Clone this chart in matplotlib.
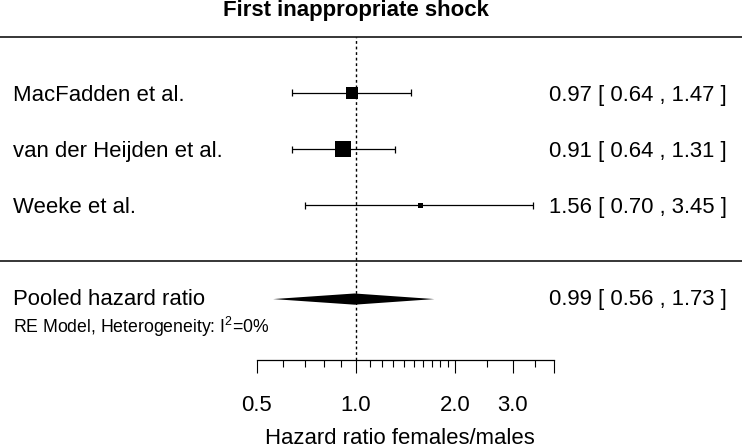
import numpy as np
import matplotlib
matplotlib.use("Agg")
import matplotlib.pyplot as plt
from matplotlib.ticker import FixedLocator, FixedFormatter

plt.rcParams['font.family'] = ['Liberation Sans', 'DejaVu Sans']
plt.rcParams['mathtext.default'] = 'regular'

# data
studies = ["MacFadden et al.", "van der Heijden et al.", "Weeke et al."]
hr = [0.97, 0.91, 1.56]
ci_lo = [0.64, 0.64, 0.70]
ci_hi = [1.47, 1.31, 3.45]
pooled_label = "Pooled hazard ratio"
pooled_hr = 0.99
pooled_lo = 0.56
pooled_hi = 1.73
model_text = "RE Model, Heterogeneity: I$^{2}$=0%"
major_ticks = [0.5, 1.0, 2.0, 3.0, 4.0]
major_labels = ["0.5", "1.0", "2.0", "3.0", ""]
minor_ticks = [0.6, 0.7, 0.8, 0.9, 1.1, 1.2, 1.3, 1.4, 1.5, 1.6, 1.7, 1.8, 1.9, 2.5, 3.5]

W, H = 742, 448
rows = [3, 2, 1]
pooled_row = -0.68
axis_row = -1.77

def px_row(y):
    # pixel y -> row units (56 px per row, row 3 at y=93)
    return 3 - (y - 93) / 56.0

fig = plt.figure(figsize=(W / 100, H / 100), dpi=100)
ax = fig.add_axes([0, 0, 1, 1])
ax.set_xscale('log', base=2)
ax.set_xlim(2 ** (-356 / 99), 2 ** (386 / 99))
ax.set_ylim(px_row(H), px_row(0))
ax.axis('off')

# study weights (metafor style: 1/se rescaled to 0.5..1.5)
se = (np.log(ci_hi) - np.log(ci_lo)) / (2 * 1.96)
wi = 1 / se
psize = (wi - wi.min()) / (wi.max() - wi.min()) + 0.5

fs = 15.9
yt = ax.get_yaxis_transform()
cap = 0.0625

for i, r in enumerate(rows):
    ax.hlines(r, ci_lo[i], ci_hi[i], color='black', lw=0.9)
    ax.vlines([ci_lo[i], ci_hi[i]], r - cap, r + cap, color='black', lw=0.9)
    side = 10.8 * psize[i] / 1.5
    ax.scatter([hr[i]], [r], marker='s', s=side ** 2, color='black', linewidths=0, zorder=3)
    ax.text(13 / W, r - 0.14, studies[i], transform=yt, ha='left', va='baseline', fontsize=fs)
    ax.text(727 / W, r - 0.14, "%.2f [ %.2f , %.2f ]" % (hr[i], ci_lo[i], ci_hi[i]),
            transform=yt, ha='right', va='baseline', fontsize=fs)

# pooled diamond
h = 0.1
ax.fill([pooled_lo, pooled_hr, pooled_hi, pooled_hr],
        [pooled_row, pooled_row + h, pooled_row, pooled_row - h],
        color='black', lw=0, zorder=3)
ax.text(13 / W, pooled_row - 0.11, pooled_label, transform=yt, ha='left', va='baseline', fontsize=fs)
ax.text(727 / W, pooled_row - 0.11, "%.2f [ %.2f , %.2f ]" % (pooled_hr, pooled_lo, pooled_hi),
        transform=yt, ha='right', va='baseline', fontsize=fs)
ax.text(13 / W, px_row(333), model_text, transform=yt, ha='left', va='baseline', fontsize=12.7)

# separator lines and reference line
ax.axhline(4, color='black', lw=1.1)
ax.axhline(0, color='black', lw=1.1)
ax.vlines(1.0, axis_row, 4, color='black', lw=1.0, linestyles=(0, (2, 2)))

# x axis
ax2 = fig.add_axes([257 / W, 1 - 360 / H, (554 - 257) / W, 0.01])
ax2.set_xscale('log')
ax2.set_xlim(0.5, 4.0)
ax2.patch.set_visible(False)
for s in ['top', 'left', 'right']:
    ax2.spines[s].set_visible(False)
ax2.spines['bottom'].set_linewidth(0.9)
ax2.set_yticks([])
ax2.xaxis.set_ticks_position('bottom')
ax2.xaxis.set_major_locator(FixedLocator(major_ticks))
ax2.xaxis.set_major_formatter(FixedFormatter(major_labels))
ax2.xaxis.set_minor_locator(FixedLocator(minor_ticks))
ax2.xaxis.set_minor_formatter(FixedFormatter([""] * len(minor_ticks)))
ax2.tick_params(axis='x', which='major', direction='out', length=9.4, width=0.8, pad=15.5, labelsize=fs)
ax2.tick_params(axis='x', which='minor', direction='out', length=4.7, width=0.8)

fig.text(400 / W, 1 - 444 / H, "Hazard ratio females/males", ha='center', va='baseline', fontsize=fs)
fig.text(356 / W, 1 - 16 / H, "First inappropriate shock", ha='center', va='baseline',
         fontsize=16, fontweight='bold')

fig.savefig("out.png", dpi=100)
